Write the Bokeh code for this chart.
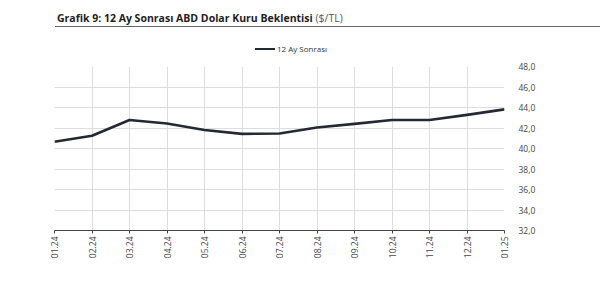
from bokeh.plotting import figure
from bokeh.models import Range1d, FixedTicker, Div
from bokeh.layouts import column
from bokeh.embed import file_html
from bokeh.resources import INLINE
import math

months = ["01.24", "02.24", "03.24", "04.24", "05.24", "06.24", "07.24",
          "08.24", "09.24", "10.24", "11.24", "12.24", "01.25"]
values = [40.65, 41.24, 42.78, 42.44, 41.80, 41.43, 41.46, 42.05, 42.40,
          42.78, 42.78, 43.28, 43.82]
y_ticks = [32, 34, 36, 38, 40, 42, 44, 46, 48]
y_tick_labels = ["32,0", "34,0", "36,0", "38,0", "40,0", "42,0", "44,0", "46,0", "48,0"]
series_name = "12 Ay Sonrası"
title_main = "Grafik 9: 12 Ay Sonrası ABD Dolar Kuru Beklentisi"
title_unit = "($/TL)"

FONT = "Open Sans"
LINE_COLOR = "#232a33"
xs = list(range(len(months)))

header = Div(
    text=(f'<div style="position:relative;width:600px;height:62px;font-family:\'{FONT}\';">'
          f'<div style="position:absolute;left:55px;top:0;width:545px;font-size:10.5px;font-weight:bold;'
          f'color:#1e1e1e;border-bottom:1px solid #666;padding:11px 0 1px 2px;line-height:14px">'
          f'{title_main} <span style="font-weight:normal;color:#555">{title_unit}</span></div>'
          f'<div style="position:absolute;left:255px;top:48px;width:20px;height:0;'
          f'border-top:2.5px solid {LINE_COLOR}"></div>'
          f'<div style="position:absolute;left:277px;top:43px;font-size:8px;line-height:12px;color:#333">'
          f'{series_name}</div>'
          f'</div>'),
    width=600, height=62, margin=(0, 0, 0, 0),
)

p = figure(width=600, height=219, frame_width=450, frame_height=164,
           x_range=Range1d(0, 12), y_range=Range1d(32, 48),
           output_backend="svg", toolbar_location=None, y_axis_location="right",
           min_border_left=54, min_border_right=96, min_border_top=4, min_border_bottom=51,
           margin=(0, 0, 0, 0))
p.outline_line_color = None
p.background_fill_color = "white"
p.border_fill_color = "white"

p.line(xs, values, line_color=LINE_COLOR, line_width=2.6, line_join="round")

p.xaxis.ticker = FixedTicker(ticks=xs)
p.xaxis.major_label_overrides = {i: m for i, m in enumerate(months)}
p.xaxis.major_label_orientation = math.pi / 2
p.xaxis.axis_line_color = "#444444"
p.xaxis.axis_line_width = 1
p.xaxis.major_tick_line_color = "#444444"
p.xaxis.major_tick_out = 3
p.xaxis.major_tick_in = 0
p.xaxis.minor_tick_line_color = None
p.xaxis.major_label_standoff = 3

p.yaxis.ticker = FixedTicker(ticks=y_ticks)
p.yaxis.major_label_overrides = {t: l for t, l in zip(y_ticks, y_tick_labels)}
p.yaxis.axis_line_color = None
p.yaxis.major_tick_line_color = None
p.yaxis.minor_tick_line_color = None
p.yaxis.major_label_standoff = 8

for ax in (p.xaxis, p.yaxis):
    ax.major_label_text_font = FONT
    ax.major_label_text_font_size = "8.5px"
    ax.major_label_text_color = "#444444"

p.xgrid.ticker = FixedTicker(ticks=xs)
p.ygrid.ticker = FixedTicker(ticks=y_ticks)
p.grid.grid_line_color = "#dddddd"
p.grid.grid_line_width = 1

page = column(header, p, spacing=0, margin=(0, 0, 0, 0))
open("out.html", "w").write(file_html(page, INLINE))
